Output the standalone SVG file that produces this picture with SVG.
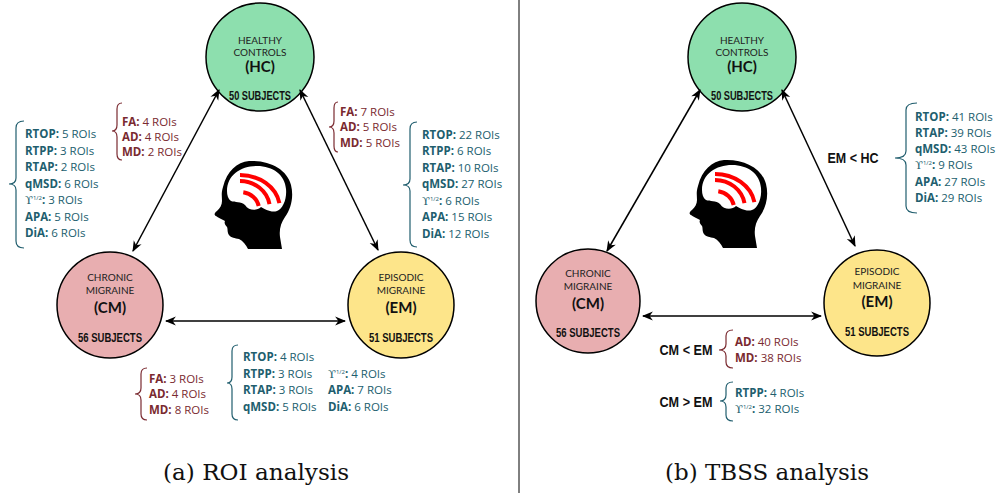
<svg xmlns="http://www.w3.org/2000/svg" xmlns:xlink="http://www.w3.org/1999/xlink" width="999" height="493" viewBox="0 0 999 493">
  <style>
    .node { stroke: #000; stroke-width: 1.5; }
    .hc { fill: #8ddfae; }
    .cm { fill: #e8aeb0; }
    .em { fill: #fde58a; }
    .cap { font-family: Lato, "Open Sans", "Liberation Sans", sans-serif; font-size: 10px; fill: #222; text-anchor: middle; }
    .abbr { font-family: Lato, "Open Sans", "Liberation Sans", sans-serif; font-size: 15px; font-weight: 700; fill: #111; text-anchor: middle; }
    .subj { font-family: "Liberation Sans Narrow", "Liberation Sans", sans-serif; font-size: 12px; font-weight: 700; fill: #111; text-anchor: middle; }
    .conn { stroke: #000; stroke-width: 1.5; fill: none; }
    .lst { font-family: "Open Sans", "Liberation Sans", sans-serif; font-size: 11.5px; }
    .teal { fill: #215e6e; }
    .red { fill: #7a2a30; }
    .b { font-weight: 700; }
    .ups { font-family: "DejaVu Serif", "Liberation Serif", serif; font-weight: 400; }
    .sup { font-size: 6px; }
    .brace-t { stroke: #215e6e; stroke-width: 1.2; fill: none; }
    .brace-r { stroke: #7a2a30; stroke-width: 1.2; fill: none; }
    .cmp { font-family: "Liberation Sans Narrow", "Liberation Sans", sans-serif; font-size: 14px; font-weight: 700; fill: #111; text-anchor: middle; }
    .title { font-family: "DejaVu Serif", "Liberation Serif", serif; font-size: 22px; fill: #111; text-anchor: middle; }
  </style>
  <defs>
    <marker id="arr" viewBox="0 0 10 10" refX="9" refY="5" markerWidth="11" markerHeight="11" markerUnits="userSpaceOnUse" orient="auto-start-reverse">
      <path d="M0,1 L10,5 L0,9 L3,5 Z" fill="#000"/>
    </marker>
    <!-- head silhouette facing left, brain outline and activity arcs -->
    <g id="headShape">
      <path fill="#000" d="M36,0 C56,-1 74,8 78,24 C81,36 78,48 72,56 C68,62 66,68 67,76 L69,88 L35,88 C33,84 30,80 26,78 C22,77 18,77 16,74 C14,71 15,68 14,66 C12,64 11,62 12,60 C9,58 5,57 3,55 C1,54 1,52 4,50 C7,47 9,44 9,40 C9,36 8,32 10,26 C14,10 24,1 36,0 Z"/>
      <path fill="#fff" d="M14,30 C14,14 28,5 44,5 C60,5 72,14 73,28 C74,38 70,48 64,50 C58,52 52,48 48,46 C44,50 36,50 32,44 C28,40 22,42 18,40 C15,38 14,34 14,30 Z"/>
      <g stroke="#ff0000" stroke-width="4" fill="none">
        <path d="M27,14 A40,34 0 0 1 66.4,42.1"/>
        <path d="M27,20 A30,28 0 0 1 56.5,43.1"/>
        <path d="M30.3,31.3 A19,17 0 0 1 45.7,45"/>
      </g>
    </g>
  </defs>

  <rect width="999" height="493" fill="#fff"/>

  <!-- panel divider -->
  <line x1="519" y1="0" x2="519" y2="493" stroke="#000" stroke-width="1"/>

  <!-- (a) ROI analysis -->
  <g id="hc-a">
    <circle class="node hc" cx="260" cy="57" r="54"/>
    <text class="cap" x="260" y="43.5">HEALTHY</text>
    <text class="cap" x="260" y="55.5">CONTROLS</text>
    <text class="abbr" x="260" y="71.5">(HC)</text>
    <text class="subj" x="260" y="100" textLength="62" lengthAdjust="spacingAndGlyphs">50 SUBJECTS</text>
  </g>
  <g id="cm-a">
    <circle class="node cm" cx="110" cy="305" r="53"/>
    <text class="cap" x="110" y="281">CHRONIC</text>
    <text class="cap" x="110" y="294">MIGRAINE</text>
    <text class="abbr" x="110" y="312.5">(CM)</text>
    <text class="subj" x="110" y="342" textLength="64" lengthAdjust="spacingAndGlyphs">56 SUBJECTS</text>
  </g>
  <g id="em-a">
    <circle class="node em" cx="401" cy="305" r="53"/>
    <text class="cap" x="401" y="281">EPISODIC</text>
    <text class="cap" x="401" y="294">MIGRAINE</text>
    <text class="abbr" x="401" y="312.5">(EM)</text>
    <text class="subj" x="401" y="342" textLength="64" lengthAdjust="spacingAndGlyphs">51 SUBJECTS</text>
  </g>
  <g id="head-a">
    <use xlink:href="#headShape" transform="translate(213,161)"/>
  </g>

  <!-- HC vs CM, diffusion tensor -->
  <g id="hc-cm-dti">
    <path class="brace-r" d="M122,103 Q117,103 117,109 L117,125 Q117,131 112,131 Q117,131 117,137 L117,154 Q117,160 122,160"/>
    <text class="lst red" x="122" y="126"><tspan class="b">FA:</tspan> 4 ROIs</text>
    <text class="lst red" x="122" y="141"><tspan class="b">AD:</tspan> 4 ROIs</text>
    <text class="lst red" x="122" y="156"><tspan class="b">MD:</tspan> 2 ROIs</text>
  </g>
  <!-- HC vs CM, diffusion propagator -->
  <g id="hc-cm-map">
    <path class="brace-t" d="M24,121 Q16,121 16,128 L16,178 Q16,184 9,184 Q16,184 16,190 L16,241 Q16,248 24,248"/>
    <text class="lst teal" x="25" y="138"><tspan class="b">RTOP:</tspan> 5 ROIs</text>
    <text class="lst teal" x="25" y="154.5"><tspan class="b">RTPP:</tspan> 3 ROIs</text>
    <text class="lst teal" x="25" y="171"><tspan class="b">RTAP:</tspan> 2 ROIs</text>
    <text class="lst teal" x="25" y="187.5"><tspan class="b">qMSD:</tspan> 6 ROIs</text>
    <text class="lst teal" x="25" y="204"><tspan class="ups">ϒ</tspan><tspan class="sup" dy="-4">1/2</tspan><tspan class="b" dy="4">:</tspan> 3 ROIs</text>
    <text class="lst teal" x="25" y="220.5"><tspan class="b">APA:</tspan> 5 ROIs</text>
    <text class="lst teal" x="25" y="237"><tspan class="b">DiA:</tspan> 6 ROIs</text>
  </g>
  <!-- HC vs EM, diffusion tensor -->
  <g id="hc-em-dti">
    <path class="brace-r" d="M338,102 Q334,102 334,108 L334,121 Q334,127 329,127 Q334,127 334,133 L334,146 Q334,152 338,152"/>
    <text class="lst red" x="340" y="116"><tspan class="b">FA:</tspan> 7 ROIs</text>
    <text class="lst red" x="340" y="131"><tspan class="b">AD:</tspan> 5 ROIs</text>
    <text class="lst red" x="340" y="147"><tspan class="b">MD:</tspan> 5 ROIs</text>
  </g>
  <!-- HC vs EM, diffusion propagator -->
  <g id="hc-em-map">
    <path class="brace-t" d="M417,122 Q410,122 410,129 L410,179 Q410,185 403,185 Q410,185 410,191 L410,240 Q410,247 417,247"/>
    <text class="lst teal" x="422" y="138.5"><tspan class="b">RTOP:</tspan> 22 ROIs</text>
    <text class="lst teal" x="422" y="155"><tspan class="b">RTPP:</tspan> 6 ROIs</text>
    <text class="lst teal" x="422" y="171.5"><tspan class="b">RTAP:</tspan> 10 ROIs</text>
    <text class="lst teal" x="422" y="188"><tspan class="b">qMSD:</tspan> 27 ROIs</text>
    <text class="lst teal" x="422" y="204.5"><tspan class="ups">ϒ</tspan><tspan class="sup" dy="-4">1/2</tspan><tspan class="b" dy="4">:</tspan> 6 ROIs</text>
    <text class="lst teal" x="422" y="221"><tspan class="b">APA:</tspan> 15 ROIs</text>
    <text class="lst teal" x="422" y="237.5"><tspan class="b">DiA:</tspan> 12 ROIs</text>
  </g>
  <!-- CM vs EM, diffusion tensor -->
  <g id="cm-em-dti">
    <path class="brace-r" d="M147,368 Q141,368 141,374 L141,388 Q141,394 135,394 Q141,394 141,400 L141,414 Q141,420 147,420"/>
    <text class="lst red" x="149" y="383"><tspan class="b">FA:</tspan> 3 ROIs</text>
    <text class="lst red" x="149" y="398"><tspan class="b">AD:</tspan> 4 ROIs</text>
    <text class="lst red" x="149" y="414"><tspan class="b">MD:</tspan> 8 ROIs</text>
  </g>
  <!-- CM vs EM, diffusion propagator -->
  <g id="cm-em-map">
    <path class="brace-t" d="M238,345 Q232,345 232,351 L232,377 Q232,383 227,383 Q232,383 232,389 L232,414 Q232,420 238,420"/>
    <text class="lst teal" x="243" y="361"><tspan class="b">RTOP:</tspan> 4 ROIs</text>
    <text class="lst teal" x="243" y="377.5"><tspan class="b">RTPP:</tspan> 3 ROIs</text>
    <text class="lst teal" x="243" y="394"><tspan class="b">RTAP:</tspan> 3 ROIs</text>
    <text class="lst teal" x="243" y="410.5"><tspan class="b">qMSD:</tspan> 5 ROIs</text>
    <text class="lst teal" x="328" y="377.5"><tspan class="ups">ϒ</tspan><tspan class="sup" dy="-4">1/2</tspan><tspan class="b" dy="4">:</tspan> 4 ROIs</text>
    <text class="lst teal" x="328" y="394"><tspan class="b">APA:</tspan> 7 ROIs</text>
    <text class="lst teal" x="328" y="410.5"><tspan class="b">DiA:</tspan> 6 ROIs</text>
  </g>

  <!-- (b) TBSS analysis -->
  <g id="hc-b">
    <circle class="node hc" cx="742" cy="57" r="54"/>
    <text class="cap" x="742" y="43.5">HEALTHY</text>
    <text class="cap" x="742" y="55.5">CONTROLS</text>
    <text class="abbr" x="742" y="71.5">(HC)</text>
    <text class="subj" x="742" y="100" textLength="62" lengthAdjust="spacingAndGlyphs">50 SUBJECTS</text>
  </g>
  <g id="cm-b">
    <circle class="node cm" cx="588" cy="301" r="52"/>
    <text class="cap" x="588" y="276.5">CHRONIC</text>
    <text class="cap" x="588" y="289.5">MIGRAINE</text>
    <text class="abbr" x="588" y="308.5">(CM)</text>
    <text class="subj" x="588" y="337" textLength="64" lengthAdjust="spacingAndGlyphs">56 SUBJECTS</text>
  </g>
  <g id="em-b">
    <circle class="node em" cx="877" cy="303" r="53"/>
    <text class="cap" x="877" y="275">EPISODIC</text>
    <text class="cap" x="877" y="288.5">MIGRAINE</text>
    <text class="abbr" x="877" y="306.5">(EM)</text>
    <text class="subj" x="877" y="336" textLength="64" lengthAdjust="spacingAndGlyphs">51 SUBJECTS</text>
  </g>
  <g id="head-b">
    <use xlink:href="#headShape" transform="translate(688,160)"/>
  </g>

  <g id="em-hc">
    <text class="cmp" x="853" y="163" textLength="51" lengthAdjust="spacingAndGlyphs">EM &lt; HC</text>
    <path class="brace-t" d="M917,103 Q906,103 906,110 L906,151 Q906,158 895,158 Q906,158 906,165 L906,206 Q906,213 917,213"/>
    <text class="lst teal" x="915" y="120.5"><tspan class="b">RTOP:</tspan> 41 ROIs</text>
    <text class="lst teal" x="915" y="136.8"><tspan class="b">RTAP:</tspan> 39 ROIs</text>
    <text class="lst teal" x="915" y="153.1"><tspan class="b">qMSD:</tspan> 43 ROIs</text>
    <text class="lst teal" x="915" y="169.4"><tspan class="ups">ϒ</tspan><tspan class="sup" dy="-4">1/2</tspan><tspan class="b" dy="4">:</tspan> 9 ROIs</text>
    <text class="lst teal" x="915" y="185.7"><tspan class="b">APA:</tspan> 27 ROIs</text>
    <text class="lst teal" x="915" y="202"><tspan class="b">DiA:</tspan> 29 ROIs</text>
  </g>
  <g id="cm-lt-em">
    <text class="cmp" x="686" y="355" textLength="53" lengthAdjust="spacingAndGlyphs">CM &lt; EM</text>
    <path class="brace-r" d="M733,330 Q726,330 726,336 L726,344 Q726,350 719,350 Q726,350 726,356 L726,362 Q726,368 733,368"/>
    <text class="lst red" x="735" y="346"><tspan class="b">AD:</tspan> 40 ROIs</text>
    <text class="lst red" x="735" y="362"><tspan class="b">MD:</tspan> 38 ROIs</text>
  </g>
  <g id="cm-gt-em">
    <text class="cmp" x="686" y="407" textLength="53" lengthAdjust="spacingAndGlyphs">CM &gt; EM</text>
    <path class="brace-t" d="M733,382 Q726,382 726,388 L726,395 Q726,401 720,401 Q726,401 726,407 L726,415 Q726,421 733,421"/>
    <text class="lst teal" x="735" y="397"><tspan class="b">RTPP:</tspan> 4 ROIs</text>
    <text class="lst teal" x="735" y="413"><tspan class="ups">ϒ</tspan><tspan class="sup" dy="-4">1/2</tspan><tspan class="b" dy="4">:</tspan> 32 ROIs</text>
  </g>

  <!-- connectors, drawn above the nodes so every arrowhead shows -->
  <g id="connectors" class="conn">
    <line x1="219" y1="90" x2="133" y2="251" marker-start="url(#arr)" marker-end="url(#arr)"/>
    <line x1="300" y1="90" x2="378" y2="250" marker-start="url(#arr)" marker-end="url(#arr)"/>
    <line x1="166" y1="321" x2="345" y2="321" marker-start="url(#arr)" marker-end="url(#arr)"/>
    <line x1="700" y1="90" x2="607" y2="251" marker-start="url(#arr)" marker-end="url(#arr)"/>
    <line x1="782" y1="90" x2="855" y2="246" marker-start="url(#arr)" marker-end="url(#arr)"/>
    <line x1="643" y1="316" x2="821" y2="316" marker-start="url(#arr)" marker-end="url(#arr)"/>
  </g>

  <!-- panel captions -->
  <text class="title" x="256" y="480" textLength="186" lengthAdjust="spacingAndGlyphs">(a) ROI analysis</text>
  <text class="title" x="767" y="480" textLength="204" lengthAdjust="spacingAndGlyphs">(b) TBSS analysis</text>
</svg>
